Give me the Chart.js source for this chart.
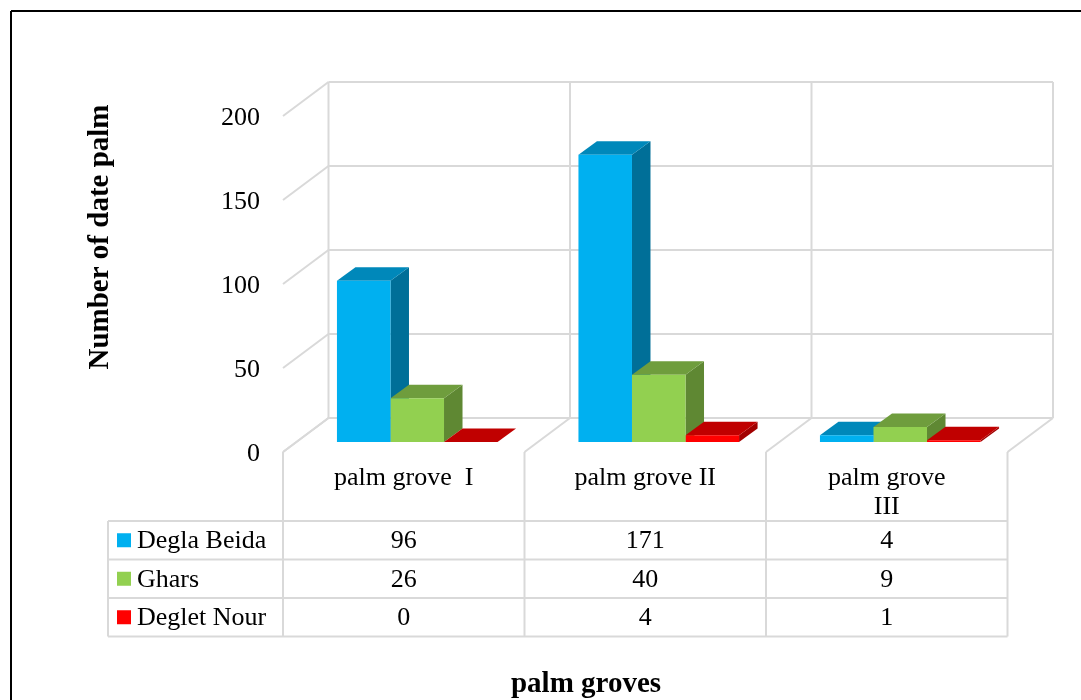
<!DOCTYPE html>
<html>
<head>
<meta charset="utf-8">
<script src="https://cdn.jsdelivr.net/npm/chart.js@4"></script>
<style>
  html, body { margin: 0; padding: 0; background: #fff; }
  canvas { display: block; }
</style>
</head>
<body>
<canvas id="chart" width="1081" height="700"></canvas>
<script>
// data
const categories = [['palm grove  I'], ['palm grove II'], ['palm grove', 'III']];
const seriesNames = ['Degla Beida', 'Ghars', 'Deglet Nour'];
const deglaBeida = [96, 171, 4];
const ghars = [26, 40, 9];
const degletNour = [0, 4, 1];
const yTicks = [0, 50, 100, 150, 200];

// face colours: front, top, side
const frontColors = ['#00B0F0', '#92D050', '#FF0000'];
const topColors = ['#0088BA', '#6F9D3D', '#C00000'];
const sideColors = ['#006F98', '#5F8833', '#A20000'];

const FONT = '"Liberation Serif", "Times New Roman", serif';
const BAR_D = { dx: 18.5, dy: -13.5 };  // depth of a bar
const WALL = { dx: 32, dy: -24 };       // bar plane -> back wall
const FRONT = { dx: -13.5, dy: 10 };    // bar plane -> front of floor
const GRID = '#D9D9D9';

function poly(ctx, pts, color) {
    ctx.beginPath();
    ctx.moveTo(pts[0][0], pts[0][1]);
    for (let i = 1; i < pts.length; i++) ctx.lineTo(pts[i][0], pts[i][1]);
    ctx.closePath();
    ctx.fillStyle = color;
    ctx.fill();
}

function line(ctx, x1, y1, x2, y2) {
    ctx.beginPath();
    ctx.moveTo(x1, y1);
    ctx.lineTo(x2, y2);
    ctx.stroke();
}

const box3d = {
    id: 'box3d',
    beforeDatasetsDraw(chart) {
        const ctx = chart.ctx;
        const ys = chart.scales.y;
        const xs = chart.scales.x;
        const catW = (chart.chartArea.right - chart.chartArea.left) / categories.length;
        const y0 = ys.getPixelForValue(0);
        const yTop = ys.getPixelForValue(yTicks[yTicks.length - 1]);

        ctx.save();
        ctx.strokeStyle = GRID;
        ctx.lineWidth = 2;
        // back wall gridlines + left side lines
        yTicks.forEach(v => {
            const y = ys.getPixelForValue(v);
            const xl = chart.chartArea.left;
            line(ctx, xl + WALL.dx, y + WALL.dy, chart.chartArea.right + WALL.dx, y + WALL.dy);
            line(ctx, xl + FRONT.dx, y + FRONT.dy, xl + WALL.dx, y + WALL.dy);
        });
        // category boundaries on wall and floor
        for (let i = 0; i <= categories.length; i++) {
            const xb = xs.getPixelForValue(0) - catW / 2 + i * catW;
            line(ctx, xb + WALL.dx, yTop + WALL.dy, xb + WALL.dx, y0 + WALL.dy);
            line(ctx, xb + FRONT.dx, y0 + FRONT.dy, xb + WALL.dx, y0 + WALL.dy);
        }

        // sides and tops of the columns
        chart.data.datasets.forEach((ds, di) => {
            const meta = chart.getDatasetMeta(di);
            meta.data.forEach(bar => {
                const l = bar.x - bar.width / 2, r = bar.x + bar.width / 2;
                const t = bar.y, b = bar.base;
                poly(ctx, [[r, t], [r + BAR_D.dx, t + BAR_D.dy], [r + BAR_D.dx, b + BAR_D.dy], [r, b]], sideColors[di]);
                poly(ctx, [[l, t], [l + BAR_D.dx, t + BAR_D.dy], [r + BAR_D.dx, t + BAR_D.dy], [r, t]], topColors[di]);
            });
        });
        ctx.restore();
    },
    afterDraw(chart) {
        const ctx = chart.ctx;
        const ys = chart.scales.y;
        const xs = chart.scales.x;
        const catW = (chart.chartArea.right - chart.chartArea.left) / categories.length;
        const y0 = ys.getPixelForValue(0);
        const xl = chart.chartArea.left + FRONT.dx;

        ctx.save();
        // outer frame
        ctx.strokeStyle = '#000';
        ctx.lineWidth = 2;
        line(ctx, 11, 11, 1081, 11);
        line(ctx, 11, 11, 11, 700);

        // y tick labels
        ctx.fillStyle = '#000';
        ctx.font = '26px ' + FONT;
        ctx.textAlign = 'right';
        ctx.textBaseline = 'middle';
        yTicks.forEach(v => {
            ctx.fillText(String(v), 260, ys.getPixelForValue(v) + FRONT.dy + 2);
        });

        // data table
        const headTop = y0 + FRONT.dy;
        const rowTop = 521;
        const rowH = 38.5;
        const tableLeft = 108;
        const tableRight = xl + categories.length * catW;
        const tableBottom = rowTop + rowH * seriesNames.length;
        ctx.strokeStyle = GRID;
        ctx.lineWidth = 2;
        for (let i = 0; i <= categories.length; i++) {
            const x = xl + i * catW;
            line(ctx, x, headTop, x, tableBottom);
        }
        line(ctx, tableLeft, rowTop, tableLeft, tableBottom);
        for (let r = 0; r <= seriesNames.length; r++) {
            line(ctx, tableLeft, rowTop + r * rowH, tableRight, rowTop + r * rowH);
        }

        ctx.fillStyle = '#000';
        ctx.textAlign = 'center';
        categories.forEach((lines, i) => {
            const cx = xl + (i + 0.5) * catW;
            lines.forEach((txt, k) => ctx.fillText(txt, cx, 478 + k * 29));
        });
        const rows = [deglaBeida, ghars, degletNour];
        rows.forEach((vals, r) => {
            const cy = rowTop + (r + 0.5) * rowH + 1;
            ctx.fillStyle = frontColors[r];
            ctx.fillRect(117, cy - 8, 14, 14);
            ctx.fillStyle = '#000';
            ctx.textAlign = 'left';
            ctx.fillText(seriesNames[r], 137, cy);
            ctx.textAlign = 'center';
            vals.forEach((v, i) => ctx.fillText(String(v), xl + (i + 0.5) * catW, cy));
        });

        // axis titles
        ctx.font = 'bold 29px ' + FONT;
        ctx.textAlign = 'center';
        ctx.textBaseline = 'alphabetic';
        ctx.fillText('palm groves', 586, 692);
        ctx.save();
        ctx.translate(108, 237);
        ctx.rotate(-Math.PI / 2);
        ctx.fillText('Number of date palm', 0, 0);
        ctx.restore();
        ctx.restore();
    }
};

const ctx = document.getElementById('chart').getContext('2d');
new Chart(ctx, {
    type: 'bar',
    data: {
        labels: categories.map(c => c.join(' ')),
        datasets: [deglaBeida, ghars, degletNour].map((vals, i) => ({
            label: seriesNames[i],
            data: vals,
            backgroundColor: frontColors[i],
            borderWidth: 0,
            categoryPercentage: 0.665,
            barPercentage: 1
        }))
    },
    options: {
        responsive: false,
        animation: false,
        layout: { padding: { left: 296.5, right: 60, top: 106, bottom: 258 } },
        scales: {
            x: { display: false },
            y: { display: false, min: 0, max: 200 }
        },
        plugins: { legend: { display: false }, tooltip: { enabled: false } }
    },
    plugins: [box3d]
});
</script>
</body>
</html>
